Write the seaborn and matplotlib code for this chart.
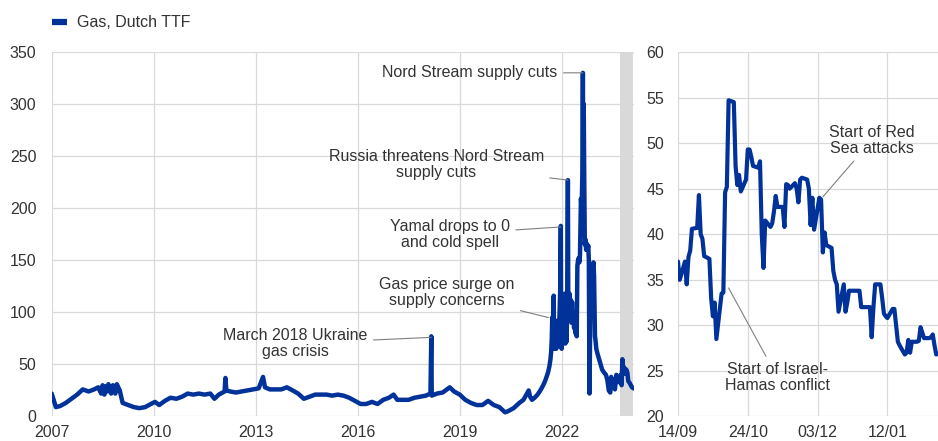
import pandas as pd
import matplotlib.pyplot as plt
import matplotlib.dates as mdates
from matplotlib.lines import Line2D
import seaborn as sns

# Long history of Dutch TTF gas price (EUR/MWh)
hist_dates = [
    '2007-01-01', '2007-02-15', '2007-04-01', '2007-06-01', '2007-08-01', '2007-10-01', '2007-12-01',
    '2008-02-01', '2008-04-01', '2008-05-15', '2008-06-15', '2008-07-01', '2008-07-20', '2008-08-01',
    '2008-08-20', '2008-09-01', '2008-10-01', '2008-10-20', '2008-11-15', '2008-12-01', '2009-01-01',
    '2009-02-01', '2009-04-01', '2009-06-01', '2009-08-01', '2009-10-01', '2009-12-01', '2010-01-15',
    '2010-03-01', '2010-05-01', '2010-07-01', '2010-09-01', '2010-11-01', '2011-01-01', '2011-03-01',
    '2011-05-01', '2011-07-01', '2011-09-01', '2011-10-15', '2011-12-01', '2012-02-01', '2012-02-10',
    '2012-02-20', '2012-04-01', '2012-06-01', '2012-08-01', '2012-10-01', '2012-12-01', '2013-02-01',
    '2013-03-20', '2013-04-10', '2013-06-01', '2013-08-01', '2013-10-01', '2013-12-01', '2014-02-01',
    '2014-04-01', '2014-06-01', '2014-08-01', '2014-10-01', '2014-12-01', '2015-02-01', '2015-04-01',
    '2015-06-01', '2015-08-01', '2015-10-01', '2015-12-01', '2016-02-01', '2016-04-01', '2016-06-01',
    '2016-08-01', '2016-10-01', '2016-12-01', '2017-01-20', '2017-03-01', '2017-05-01', '2017-07-01',
    '2017-09-01', '2017-11-01', '2018-01-01', '2018-02-20', '2018-03-01', '2018-03-06', '2018-05-01',
    '2018-07-01', '2018-09-15', '2018-11-01', '2019-01-01', '2019-03-01', '2019-05-01', '2019-07-01',
    '2019-09-01', '2019-11-01', '2020-01-01', '2020-03-01', '2020-05-01', '2020-06-01', '2020-08-01',
    '2020-10-01', '2020-11-15', '2021-01-10', '2021-01-25', '2021-02-15', '2021-03-15', '2021-04-15',
    '2021-05-15', '2021-06-15', '2021-07-05', '2021-07-20', '2021-08-05', '2021-08-20', '2021-09-01',
    '2021-09-08', '2021-09-15', '2021-09-20', '2021-09-24', '2021-09-29', '2021-10-06', '2021-10-09',
    '2021-10-14', '2021-10-20', '2021-10-26', '2021-11-02', '2021-11-09', '2021-11-16', '2021-11-23',
    '2021-11-30', '2021-12-07', '2021-12-14', '2021-12-21', '2021-12-24', '2021-12-30', '2022-01-06',
    '2022-01-12', '2022-01-19', '2022-01-26', '2022-02-02', '2022-02-08', '2022-02-15', '2022-02-22',
    '2022-02-28', '2022-03-07', '2022-03-11', '2022-03-17', '2022-03-24', '2022-03-31', '2022-04-07',
    '2022-04-14', '2022-04-21', '2022-04-28', '2022-05-05', '2022-05-12', '2022-05-19', '2022-05-26',
    '2022-06-02', '2022-06-10', '2022-06-17', '2022-06-24', '2022-07-01', '2022-07-08', '2022-07-15',
    '2022-07-25', '2022-08-02', '2022-08-09', '2022-08-15', '2022-08-19', '2022-08-24', '2022-08-29',
    '2022-09-05', '2022-09-12', '2022-09-19', '2022-09-26', '2022-10-03', '2022-10-12', '2022-10-18',
    '2022-10-25', '2022-11-04', '2022-11-14', '2022-11-24', '2022-12-07', '2022-12-13', '2022-12-19',
    '2022-12-23', '2022-12-30', '2023-01-06', '2023-01-20', '2023-02-05', '2023-02-20', '2023-03-10',
    '2023-04-01', '2023-04-20', '2023-05-05', '2023-05-20', '2023-06-05', '2023-06-15', '2023-06-25',
    '2023-07-10', '2023-07-25', '2023-08-10', '2023-08-20', '2023-09-01', '2023-09-14', '2023-09-25',
    '2023-10-05', '2023-10-13', '2023-10-20', '2023-11-01', '2023-11-10', '2023-11-25', '2023-12-06',
    '2023-12-15', '2024-01-01', '2024-01-12', '2024-01-25', '2024-02-09',
]
hist_values = [
    22, 9, 10, 13, 17, 21, 26,
    24, 26, 28, 22, 30, 21, 29,
    24, 31, 22, 30, 22, 31, 25,
    13, 11, 9, 8, 9, 12, 14,
    11, 15, 18, 17, 19, 22, 21,
    22, 21, 22, 17, 21, 24, 37,
    25, 24, 23, 24, 25, 26, 27,
    38, 28, 26, 26, 26, 28, 25,
    22, 17, 19, 21, 21, 21, 20,
    21, 20, 18, 15, 12, 12, 14,
    12, 16, 18, 21, 16, 16, 16,
    18, 19, 20, 22, 77, 20, 22,
    23, 28, 24, 21, 16, 13, 11,
    11, 15, 11, 9, 4, 5, 8,
    13, 16, 25, 19, 16, 18, 21,
    25, 30, 34, 38, 42, 48, 55,
    62, 75, 95, 70, 93, 116, 65,
    90, 66, 92, 65, 82, 68, 92,
    75, 96, 120, 183, 95, 65, 90,
    70, 90, 75, 118, 70, 90, 72,
    120, 227, 110, 92, 118, 95, 112,
    90, 110, 92, 100, 85, 90, 80,
    88, 77, 145, 150, 152, 148, 155,
    209, 200, 230, 330, 250, 300, 235,
    165, 170, 160, 166, 160, 164, 150,
    22, 110, 118, 125, 148, 135, 100,
    77, 72, 65, 60, 55, 50, 45,
    42, 40, 35, 25, 23, 38, 35,
    28, 26, 40, 35, 33, 37, 40,
    30, 55, 48, 47, 41, 45, 42,
    34, 32, 30, 28, 27,
]

# Recent daily prices (business days from 14/09/2023)
recent_start = '2023-09-14'
recent_values = [
    37, 35, 37, 34.5, 37.5, 38.2, 40.6, 40.7, 44.3, 40, 39.5, 37.6, 37.3, 33, 31,
    32.5, 28.5, 33.5, 33.6, 44.6, 45.2, 54.7, 54.5, 47.5, 45.4, 46.5, 44.7, 46, 49.3, 49.3,
    48.5, 47.5, 47.3, 48, 40, 36.3, 41.5, 40.8, 41.2, 42.5, 44.2, 43, 43, 40.8, 45.5,
    45.4, 45, 45.6, 45, 43.5, 46, 46.2, 46, 45, 41, 44, 40.5, 44, 43.8, 38,
    40.2, 38.8, 38.5, 36, 35, 34.5, 31.5, 34.5, 31.5, 32.5, 33.8, 33.8, 33.8, 33.8, 33.8,
    32, 32, 32, 32, 28.7, 32, 34.5, 34.5, 33, 31.3, 31, 30.8, 31.8, 31.8, 30,
    28.2, 27.8, 26.8, 27, 28.4, 27, 28.2, 28.2, 28.3, 29.8, 29.2, 28.6, 28.6, 28.7, 29,
    27.8, 26.8,
]

hist = pd.DataFrame({'date': pd.to_datetime(hist_dates), 'price': hist_values})
recent = pd.DataFrame({
    'date': pd.bdate_range(recent_start, periods=len(recent_values)),
    'price': recent_values,
})

BLUE = '#003299'
GRID = '#d9d9d9'
TXT = '#333333'
FS = 11.5

sns.set_style('white')
plt.rcParams['font.family'] = ['Liberation Sans', 'DejaVu Sans']
plt.rcParams['text.color'] = TXT

fig = plt.figure(figsize=(9.38, 4.41), dpi=100)
ax1 = fig.add_axes([0.0551, 0.0556, 0.6213, 0.8265])
ax2 = fig.add_axes([0.7228, 0.0556, 0.2772, 0.8265])

# shaded period shown in the right panel
ax1.axvspan(recent['date'].iloc[0], recent['date'].iloc[-1], color=GRID, lw=0, zorder=0)

sns.lineplot(data=hist, x='date', y='price', ax=ax1, color=BLUE, linewidth=3.2, zorder=3)
sns.lineplot(data=recent, x='date', y='price', ax=ax2, color=BLUE, linewidth=3.0, zorder=3)

ax1.set_xlim(pd.Timestamp('2007-01-01'), pd.Timestamp('2024-02-20'))
ax1.set_ylim(0, 350)
ax1.set_yticks(range(0, 351, 50))
ax1.xaxis.set_major_locator(mdates.YearLocator(3))
ax1.xaxis.set_major_formatter(mdates.DateFormatter('%Y'))

ax2.set_xlim(pd.Timestamp('2023-09-14'), pd.Timestamp('2024-02-10'))
ax2.set_ylim(20, 60)
ax2.set_yticks(range(20, 61, 5))
ax2.set_xticks(pd.date_range('2023-09-14', periods=4, freq='40D'))
ax2.xaxis.set_major_formatter(mdates.DateFormatter('%d/%m'))

for ax, ypad in [(ax1, 11), (ax2, 10)]:
    ax.set_xlabel('')
    ax.set_ylabel('')
    ax.grid(True, color=GRID, linewidth=0.9)
    ax.set_axisbelow(True)
    for s in ax.spines.values():
        s.set_visible(False)
    ax.tick_params(axis='x', length=0, pad=6, labelsize=FS, labelcolor=TXT)
    ax.tick_params(axis='y', length=0, pad=ypad, labelsize=FS, labelcolor=TXT)

# annotations
line_props = dict(arrowstyle='-', color='#7f7f7f', lw=0.8, shrinkA=2, shrinkB=0)
left_notes = [
    ('Nord Stream supply cuts', '2022-08-15', 330, '2019-04-20', 330),
    ('Russia threatens Nord Stream\nsupply cuts', '2022-03-07', 227, '2018-04-22', 242),
    ('Yamal drops to 0\nand cold spell', '2021-12-21', 182, '2018-09-16', 175),
    ('Gas price surge on\nsupply concerns', '2021-08-10', 95, '2018-08-14', 119),
    ('March 2018 Ukraine\ngas crisis', '2018-03-01', 76, '2014-03-01', 70),
]
for txt, xd, yv, tx, ty in left_notes:
    ax1.annotate(txt, xy=(pd.Timestamp(xd), yv), xytext=(pd.Timestamp(tx), ty),
                 ha='center', va='center', fontsize=FS, color=TXT,
                 linespacing=1.05, arrowprops=line_props)

right_notes = [
    ('Start of Red\nSea attacks', '2023-12-06', 44.1, '2024-01-03', 50.3),
    ('Start of Israel-\nHamas conflict', '2023-10-13', 34.1, '2023-11-10', 24.3),
]
for txt, xd, yv, tx, ty in right_notes:
    ax2.annotate(txt, xy=(pd.Timestamp(xd), yv), xytext=(pd.Timestamp(tx), ty),
                 ha='center', va='center', fontsize=FS, color=TXT,
                 linespacing=1.05, arrowprops=line_props)

handle = Line2D([], [], color=BLUE, linewidth=4.5, solid_capstyle='butt')
fig.legend([handle], ['Gas, Dutch TTF'], loc='center left', bbox_to_anchor=(0.055, 0.948),
           frameon=False, fontsize=FS, handlelength=0.95, handletextpad=0.65,
           borderpad=0, borderaxespad=0)

fig.savefig('out.png', dpi=100)
